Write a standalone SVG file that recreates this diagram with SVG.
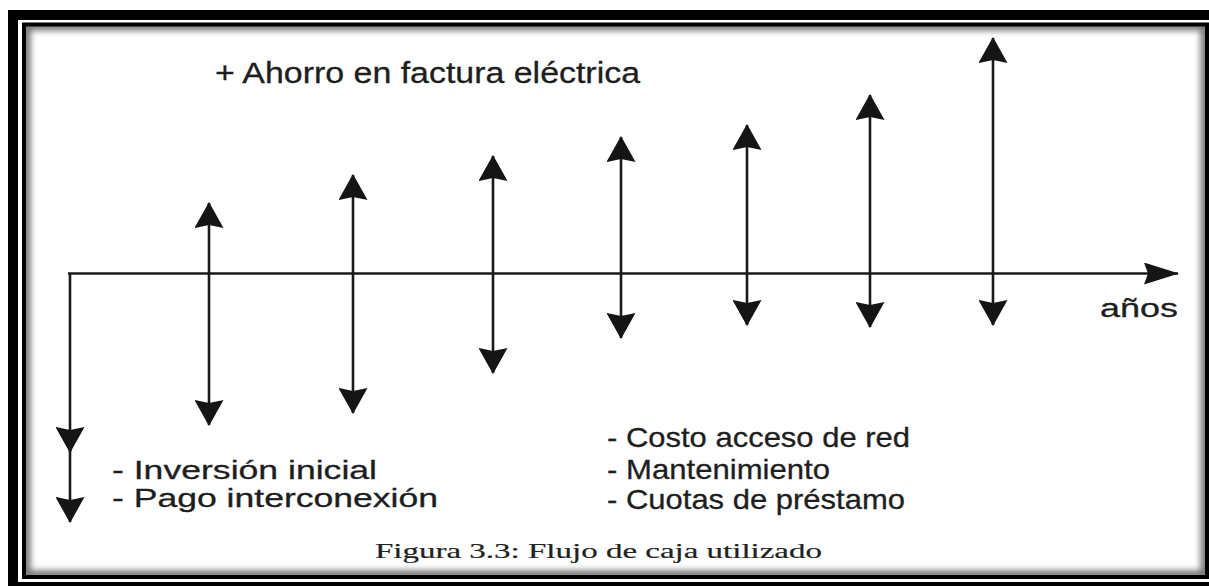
<svg xmlns="http://www.w3.org/2000/svg" width="1209" height="586" viewBox="0 0 1209 586">
  <style>
    .ln { stroke: #1a1a1a; stroke-width: 2.6; fill: none; }
    .sans { font-family: "Liberation Sans", Arial, sans-serif; fill: #1e1e1e; stroke: #1e1e1e; stroke-width: 0.3; }
    .serif { font-family: "Liberation Serif", "Times New Roman", serif; fill: #222; stroke: #222; stroke-width: 0.2; }
  </style>
  <defs>
    <marker id="head" viewBox="0 0 26 29" refX="25" refY="14.5" markerWidth="26" markerHeight="29" markerUnits="userSpaceOnUse" orient="auto-start-reverse">
      <path d="M0,0 L26,14.5 L0,29 L3,14.5 Z" fill="#151515"/>
    </marker>
    <marker id="axhead" viewBox="0 0 35 22" refX="34" refY="11" markerWidth="35" markerHeight="22" markerUnits="userSpaceOnUse" orient="auto">
      <path d="M0,0 L35,11 L0,22 L4,11 Z" fill="#151515"/>
    </marker>
    <clipPath id="inner"><rect x="26" y="26" width="1179" height="549"/></clipPath>
    <filter id="blur" x="-5%" y="-5%" width="110%" height="110%"><feGaussianBlur stdDeviation="3"/></filter>
  </defs>

  <!-- frame -->
  <g id="frame">
    <rect x="0" y="0" width="1209" height="586" fill="#fff"/>
    <rect x="8" y="10" width="1220" height="600" fill="#000"/>
    <rect x="18" y="20" width="1200" height="562" fill="#fff"/>
    <rect x="24" y="24.5" width="1183" height="552.5" fill="none" stroke="#000" stroke-width="4"/>
    <g clip-path="url(#inner)">
      <rect x="26" y="26" width="1179" height="549" fill="none" stroke="#000" stroke-opacity="0.55" stroke-width="9" filter="url(#blur)"/>
    </g>
  </g>

  <!-- axis -->
  <g id="axis">
    <line class="ln" x1="68" y1="273.5" x2="1178" y2="273.5" marker-end="url(#axhead)"/>
    <text class="sans" x="1100" y="317" font-size="26" textLength="78" lengthAdjust="spacingAndGlyphs">años</text>
  </g>

  <!-- cash flow arrows -->
  <g id="connectors">
    <g id="year0">
      <line class="ln" x1="70" y1="273.5" x2="70" y2="452" marker-end="url(#head)"/>
      <line class="ln" x1="70" y1="440" x2="70" y2="522" marker-end="url(#head)"/>
    </g>
    <line id="year1" class="ln" x1="209" y1="203" x2="209" y2="425" marker-start="url(#head)" marker-end="url(#head)"/>
    <line id="year2" class="ln" x1="353" y1="175" x2="353" y2="413" marker-start="url(#head)" marker-end="url(#head)"/>
    <line id="year3" class="ln" x1="493" y1="156" x2="493" y2="373" marker-start="url(#head)" marker-end="url(#head)"/>
    <line id="year4" class="ln" x1="621" y1="137" x2="621" y2="338" marker-start="url(#head)" marker-end="url(#head)"/>
    <line id="year5" class="ln" x1="747" y1="125" x2="747" y2="325" marker-start="url(#head)" marker-end="url(#head)"/>
    <line id="year6" class="ln" x1="870" y1="95" x2="870" y2="327" marker-start="url(#head)" marker-end="url(#head)"/>
    <line id="year7" class="ln" x1="993" y1="38" x2="993" y2="325" marker-start="url(#head)" marker-end="url(#head)"/>
  </g>

  <!-- labels -->
  <g id="label-income">
    <text class="sans" x="215" y="83" font-size="29" textLength="425" lengthAdjust="spacingAndGlyphs">+ Ahorro en factura eléctrica</text>
  </g>
  <g id="label-initial">
    <text class="sans" x="112" y="479" font-size="26" textLength="265" lengthAdjust="spacingAndGlyphs">- Inversión inicial</text>
    <text class="sans" x="112" y="507" font-size="26" textLength="326" lengthAdjust="spacingAndGlyphs">- Pago interconexión</text>
  </g>
  <g id="label-costs">
    <text class="sans" x="607" y="447" font-size="28" textLength="303" lengthAdjust="spacingAndGlyphs">- Costo acceso de red</text>
    <text class="sans" x="607" y="479" font-size="28" textLength="223" lengthAdjust="spacingAndGlyphs">- Mantenimiento</text>
    <text class="sans" x="607" y="509" font-size="28" textLength="298" lengthAdjust="spacingAndGlyphs">- Cuotas de préstamo</text>
  </g>
  <g id="caption">
    <text class="serif" x="375" y="558" font-size="21.5" textLength="447" lengthAdjust="spacingAndGlyphs">Figura 3.3: Flujo de caja utilizado</text>
  </g>
</svg>
